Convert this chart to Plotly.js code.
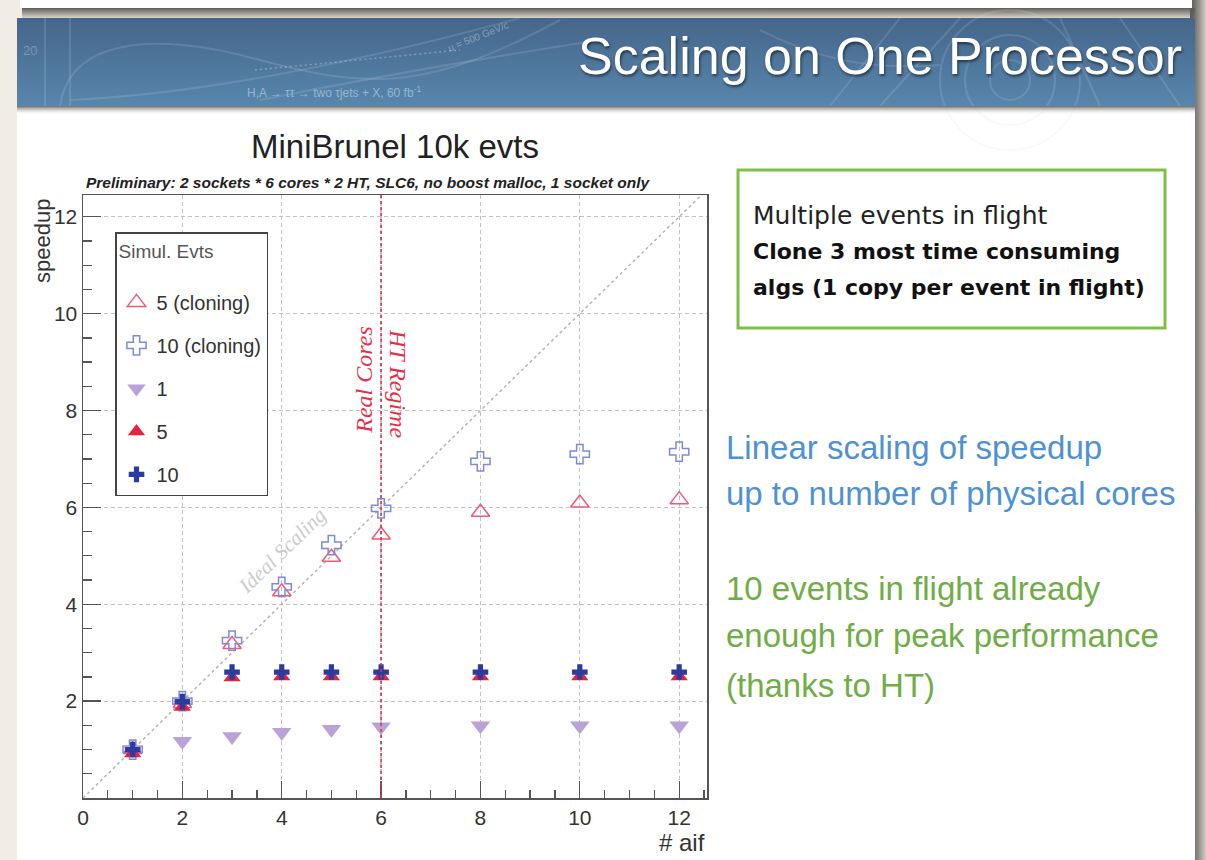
<!DOCTYPE html>
<html>
<head>
<meta charset="utf-8">
<script src="https://cdn.plot.ly/plotly-3.0.1.min.js"></script>
<style>
  html, body { margin: 0; padding: 0; background: #f1ece4; }
  #chart { width: 1206px; height: 860px; }
</style>
</head>
<body>
<div id="chart"></div>
<script>
// Number of algorithms in flight (x) and measured speedup per configuration
const aif = [1, 2, 3, 4, 5, 6, 8, 10, 12];
const speedupClone5  = [1.00, 1.95, 3.17, 4.26, 4.97, 5.43, 5.90, 6.09, 6.16];
const speedupClone10 = [1.00, 2.00, 3.25, 4.36, 5.22, 5.98, 6.95, 7.10, 7.15];
const speedupEvt1    = [1.00, 1.17, 1.27, 1.36, 1.42, 1.47, 1.49, 1.49, 1.49];
const speedupEvt5    = [0.92, 1.88, 2.49, 2.51, 2.51, 2.51, 2.51, 2.51, 2.51];
const speedupEvt10   = [1.00, 1.99, 2.60, 2.60, 2.60, 2.60, 2.60, 2.60, 2.60];
const seriesNames = ['5 (cloning)', '10 (cloning)', '1', '5', '10'];
const xTickVals = [0, 2, 4, 6, 8, 10, 12];
const yTickVals = [2, 4, 6, 8, 10, 12];
const physicalCores = 6;
const idealX = [0, 13];
const idealY = [0, 13];

// Plot-area placement on the page (pixels)
const W = 1206, H = 860;
const PL = 83, PR = 707, PT = 195, PB = 798;
const pw = PR - PL, ph = PB - PT;
const px = x => (x - PL) / pw;
const py = y => (PB - y) / ph;

// Slide background: page, shadows, white slide, blue banner
const bg = `<svg xmlns='http://www.w3.org/2000/svg' width='${W}' height='${H}' viewBox='0 0 ${W} ${H}'>
<defs>
<linearGradient id='bn' x1='0' y1='0' x2='0' y2='1'><stop offset='0' stop-color='#45668a'/><stop offset='1' stop-color='#5886ad'/></linearGradient>
<linearGradient id='sh' x1='0' y1='0' x2='0' y2='1'><stop offset='0' stop-color='#5e5d58'/><stop offset='1' stop-color='#5e5d58' stop-opacity='0'/></linearGradient>
<linearGradient id='sh2' x1='0' y1='0' x2='0' y2='1'><stop offset='0' stop-color='#6a6a66'/><stop offset='1' stop-color='#ffffff' stop-opacity='0'/></linearGradient>
<linearGradient id='rs' x1='0' y1='0' x2='1' y2='0'><stop offset='0' stop-color='#55544f'/><stop offset='0.5' stop-color='#8c8a85'/><stop offset='1' stop-color='#d2cec6'/></linearGradient>
</defs>
<rect width='${W}' height='${H}' fill='#f1ece4'/>
<rect x='1190' y='0' width='16' height='${H}' fill='url(#rs)'/>
<rect x='22' y='8' width='1173' height='12' fill='url(#sh)'/>
<rect x='20' y='0' width='1172' height='8' fill='#ffffff'/>
<rect x='17' y='18' width='1178' height='842' fill='#ffffff'/>
<rect x='17' y='18' width='1178' height='88' fill='url(#bn)'/>
<g fill='none' stroke='#cfe2f2' stroke-opacity='0.16' stroke-width='2'>
<path d='M60 106 C 70 40, 150 30, 260 60 S 430 90, 560 20'/>
<path d='M70 100 C 180 95, 330 70, 520 18'/>
<path d='M260 100 C 360 80, 470 60, 600 40'/>
<path d='M45 18 L 45 106 M 70 18 L 70 106'/>
<circle cx='1010' cy='80' r='70'/>
<circle cx='1010' cy='80' r='45'/>
<circle cx='1010' cy='80' r='20'/>
<path d='M830 106 L 900 18 M 880 106 L 960 18 M 1120 18 L 1180 106 M 1060 18 L 1100 106'/>
<path d='M760 30 C 820 60, 870 70, 940 65'/>
</g>
<g fill='none' stroke='#d8e8f5' stroke-opacity='0.35' stroke-width='1.5' stroke-dasharray='2,3'>
<path d='M255 70 L 460 50'/>
</g>
<rect x='17' y='106' width='1178' height='9' fill='url(#sh2)'/>
</svg>`;
const bgSrc = 'data:image/svg+xml;charset=utf-8,' + encodeURIComponent(bg);

const sans = 'Liberation Sans, Arial, sans-serif';
const serif = 'Liberation Serif, Times New Roman, serif';
const verd = 'DejaVu Sans, Verdana, sans-serif';

const traces = [
  {
    x: idealX, y: idealY, mode: 'lines', showlegend: false, hoverinfo: 'skip',
    line: { color: '#b4b4b4', width: 1.5, dash: 'dot' }
  },
  {
    name: seriesNames[0], legendgroup: 'a', x: aif, y: speedupClone5, mode: 'markers',
    marker: { symbol: 'triangle-up-open', size: 16, color: '#ee5a78', line: { width: 1.5, color: '#ee5a78' } }
  },
  {
    name: seriesNames[1], legendgroup: 'b', x: aif, y: speedupClone10, mode: 'markers',
    marker: { symbol: 'cross-open', size: 16, color: '#7d8bd6', line: { width: 1.5, color: '#7d8bd6' } }
  },
  {
    name: seriesNames[2], legendgroup: 'c', x: aif, y: speedupEvt1, mode: 'markers',
    marker: { symbol: 'triangle-down', size: 17, color: '#b9a2d6' }
  },
  {
    name: seriesNames[3], legendgroup: 'd', x: aif, y: speedupEvt5, mode: 'markers',
    marker: { symbol: 'triangle-up', size: 15, color: '#e8213f' }
  },
  {
    name: seriesNames[4], legendgroup: 'e', x: aif, y: speedupEvt10, mode: 'markers',
    marker: { symbol: 'cross', size: 13, color: '#2b3b9e' }
  }
];

const axisCommon = {
  showline: true, mirror: true, linecolor: '#555', linewidth: 1.5,
  ticks: 'inside', tickcolor: '#555', tickwidth: 1.3,
  showgrid: true, gridcolor: '#c2c2c2', gridwidth: 1.2, griddash: '4px,3px',
  zeroline: false, fixedrange: true,
  tickfont: { family: sans, size: 21, color: '#333' }
};

const layout = {
  width: W, height: H,
  margin: { l: PL, r: W - PR, t: PT, b: H - PB, pad: 0 },
  paper_bgcolor: '#f1ece4',
  plot_bgcolor: 'rgba(0,0,0,0)',
  showlegend: true,
  xaxis: Object.assign({}, axisCommon, {
    range: [0, 12.56], tickmode: 'array', tickvals: xTickVals, ticktext: xTickVals.map(String),
    ticklen: 17,
    minor: { dtick: 0.5, ticks: 'inside', ticklen: 8, tickcolor: '#555', tickwidth: 1.3, showgrid: false }
  }),
  yaxis: Object.assign({}, axisCommon, {
    range: [0, 12.45], tickmode: 'array', tickvals: yTickVals, ticktext: yTickVals.map(String),
    ticklen: 18,
    minor: { dtick: 0.5, ticks: 'inside', ticklen: 9, tickcolor: '#555', tickwidth: 1.3, showgrid: false }
  }),
  legend: {
    x: px(115), y: py(232), xanchor: 'left', yanchor: 'top',
    bgcolor: '#ffffff', bordercolor: '#444', borderwidth: 1.5,
    font: { family: sans, size: 20, color: '#333' },
    title: { text: 'Simul. Evts<br>&nbsp;', font: { family: sans, size: 19, color: '#555' } },
    traceorder: 'grouped', tracegroupgap: 14,
    itemsizing: 'trace'
  },
  images: [{
    source: bgSrc, xref: 'paper', yref: 'paper',
    x: -PL / pw, y: 1 + PT / ph, sizex: W / pw, sizey: H / ph,
    xanchor: 'left', yanchor: 'top', sizing: 'stretch', layer: 'below'
  }],
  shapes: [
    { type: 'line', xref: 'x', yref: 'paper', x0: physicalCores, x1: physicalCores, y0: 0, y1: 1,
      line: { color: '#e3304a', width: 1.6, dash: 'dot' } },
    { type: 'rect', xref: 'paper', yref: 'paper', x0: px(738), x1: px(1165), y0: py(170), y1: py(328),
      line: { color: '#7ec142', width: 3 }, fillcolor: 'rgba(0,0,0,0)' }
  ],
  annotations: [
    // banner
    { xref: 'paper', yref: 'paper', x: px(1184), y: py(56), xanchor: 'right', yanchor: 'middle',
      text: 'Scaling on One Processor', showarrow: false,
      font: { family: sans, size: 52, color: '#ffffff', shadow: '1px 2px 3px rgba(0,0,0,0.55)' } },
    { xref: 'paper', yref: 'paper', x: px(245), y: py(92), xanchor: 'left', yanchor: 'middle',
      text: 'H,A → ττ → two τjets + X, 60 fb<sup>-1</sup>', showarrow: false,
      font: { family: sans, size: 12, color: 'rgba(210,226,240,0.55)' } },
    { xref: 'paper', yref: 'paper', x: px(478), y: py(36), xanchor: 'center', yanchor: 'middle',
      text: 'u = 500 GeV/c', showarrow: false, textangle: -22,
      font: { family: sans, size: 10, color: 'rgba(210,226,240,0.45)' } },
    { xref: 'paper', yref: 'paper', x: px(30), y: py(50), xanchor: 'center', yanchor: 'middle',
      text: '20', showarrow: false,
      font: { family: sans, size: 13, color: 'rgba(210,226,240,0.35)' } },
    // chart titles
    { xref: 'paper', yref: 'paper', x: px(395), y: py(147), xanchor: 'center', yanchor: 'middle',
      text: 'MiniBrunel 10k evts', showarrow: false,
      font: { family: sans, size: 33, color: '#222' } },
    { xref: 'paper', yref: 'paper', x: px(368), y: py(182), xanchor: 'center', yanchor: 'middle',
      text: '<b><i>Preliminary: 2 sockets * 6 cores * 2 HT, SLC6, no boost malloc, 1 socket only</i></b>', showarrow: false,
      font: { family: sans, size: 15.5, color: '#222' } },
    { xref: 'paper', yref: 'paper', x: px(42), y: py(197), xanchor: 'center', yanchor: 'top',
      text: 'speedup', showarrow: false, textangle: -90,
      font: { family: sans, size: 22, color: '#333' } },
    { xref: 'paper', yref: 'paper', x: 1, y: py(842), xanchor: 'right', yanchor: 'middle',
      text: '# aif', showarrow: false,
      font: { family: sans, size: 24, color: '#333' } },
    // in-plot labels
    { xref: 'x', yref: 'y', x: 5.64, y: 8.62, text: '<i>Real Cores</i>', showarrow: false, textangle: -90,
      font: { family: serif, size: 24, color: '#e3304a' } },
    { xref: 'x', yref: 'y', x: 6.34, y: 8.55, text: '<i>HT Regime</i>', showarrow: false, textangle: 90,
      font: { family: serif, size: 24, color: '#e3304a' } },
    { xref: 'x', yref: 'y', x: 4.0, y: 5.1, text: '<i>Ideal Scaling</i>', showarrow: false, textangle: -44,
      font: { family: serif, size: 21, color: '#cccccc' } },
    // side notes
    { xref: 'paper', yref: 'paper', x: px(751), y: py(216), xanchor: 'left', yanchor: 'middle',
      text: 'Multiple events in flight', showarrow: false,
      font: { family: verd, size: 25, color: '#222' } },
    { xref: 'paper', yref: 'paper', x: px(751), y: py(251), xanchor: 'left', yanchor: 'middle',
      text: '<b>Clone 3 most time consuming</b>', showarrow: false,
      font: { family: verd, size: 22, color: '#111' } },
    { xref: 'paper', yref: 'paper', x: px(751), y: py(287), xanchor: 'left', yanchor: 'middle',
      text: '<b>algs (1 copy per event in flight)</b>', showarrow: false,
      font: { family: verd, size: 22, color: '#111' } },
    { xref: 'paper', yref: 'paper', x: px(724), y: py(447), xanchor: 'left', yanchor: 'middle',
      text: 'Linear scaling of speedup', showarrow: false,
      font: { family: sans, size: 33, color: '#4f92d2' } },
    { xref: 'paper', yref: 'paper', x: px(724), y: py(493), xanchor: 'left', yanchor: 'middle',
      text: 'up to number of physical cores', showarrow: false,
      font: { family: sans, size: 33, color: '#4f92d2' } },
    { xref: 'paper', yref: 'paper', x: px(724), y: py(588), xanchor: 'left', yanchor: 'middle',
      text: '10 events in flight already', showarrow: false,
      font: { family: sans, size: 33, color: '#70ad47' } },
    { xref: 'paper', yref: 'paper', x: px(724), y: py(635), xanchor: 'left', yanchor: 'middle',
      text: 'enough for peak performance', showarrow: false,
      font: { family: sans, size: 33, color: '#70ad47' } },
    { xref: 'paper', yref: 'paper', x: px(724), y: py(685), xanchor: 'left', yanchor: 'middle',
      text: '(thanks to HT)', showarrow: false,
      font: { family: sans, size: 33, color: '#70ad47' } }
  ]
};

Plotly.newPlot('chart', traces, layout, { staticPlot: true, displayModeBar: false });
</script>
</body>
</html>
